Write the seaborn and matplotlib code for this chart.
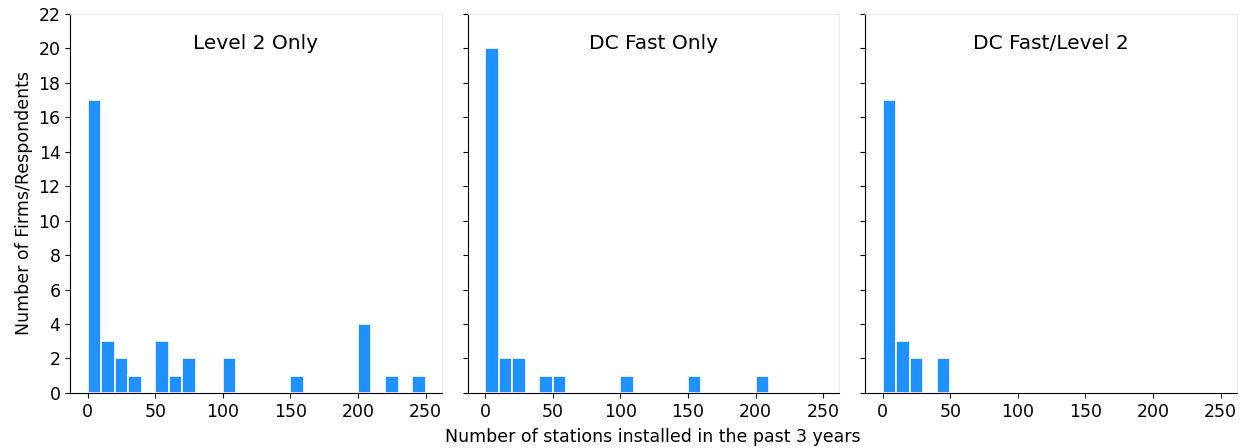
import numpy as np
import pandas as pd
import matplotlib
matplotlib.use("Agg")
import matplotlib.pyplot as plt
import seaborn as sns

# bin left edges (width 10) and number of firms in each bin
panel_titles = ["Level 2 Only", "DC Fast Only", "DC Fast/Level 2"]

level2_bins = [0, 10, 20, 30, 50, 60, 70, 100, 150, 200, 220, 240]
level2_counts = [17, 3, 2, 1, 3, 1, 2, 2, 1, 4, 1, 1]

dcfast_bins = [0, 10, 20, 40, 50, 100, 150, 200]
dcfast_counts = [20, 2, 2, 1, 1, 1, 1, 1]

both_bins = [0, 10, 20, 40]
both_counts = [17, 3, 2, 2]

y_ticks = list(range(0, 23, 2))
x_ticks = [0, 50, 100, 150, 200, 250]

sns.set_style("ticks")
plt.rcParams["font.family"] = ["DejaVu Sans"]
plt.rcParams.update({"text.color": "black", "axes.labelcolor": "black",
                     "xtick.color": "black", "ytick.color": "black"})

fig, axes = plt.subplots(1, 3, figsize=(12.43, 4.48), dpi=100, sharey=True)
fig.subplots_adjust(left=0.0565, right=0.995, top=0.969, bottom=0.123, wspace=0.07)

panels = [(level2_bins, level2_counts), (dcfast_bins, dcfast_counts), (both_bins, both_counts)]
for ax, title, (bins, counts) in zip(axes, panel_titles, panels):
    df = pd.DataFrame({"stations": np.array(bins) + 5, "firms": counts})
    sns.histplot(data=df, x="stations", weights="firms", binwidth=10, binrange=(0, 250),
                 color="#1e90ff", alpha=1, edgecolor="white", linewidth=1.2, ax=ax)
    ax.set_title(title, fontsize=14.5, y=0.885)
    ax.set_xlim(-13, 262)
    ax.set_ylim(0, 22)
    ax.set_xticks(x_ticks)
    ax.set_yticks(y_ticks)
    ax.set_xlabel("")
    ax.set_ylabel("")
    ax.tick_params(labelsize=12.5, color="black")
    for side in ["top", "right"]:
        ax.spines[side].set_color("#e6e6e6")
        ax.spines[side].set_linewidth(0.6)
    for side in ["left", "bottom"]:
        ax.spines[side].set_color("black")

axes[0].set_ylabel("Number of Firms/Respondents", fontsize=12.5)
fig.supxlabel("Number of stations installed in the past 3 years", fontsize=12.5, x=0.525, y=0.005)

fig.savefig("out.png", dpi=100)
